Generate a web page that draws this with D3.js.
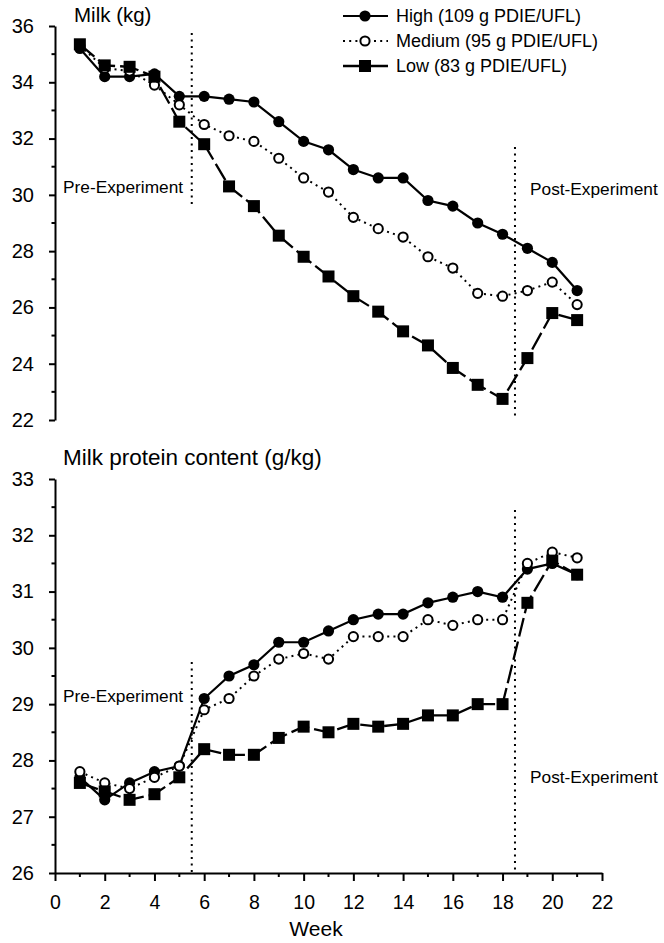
<!DOCTYPE html>
<html>
<head>
<meta charset="utf-8">
<script src="https://cdn.jsdelivr.net/npm/d3@7"></script>
<style>
  body { margin: 0; background: #fff; }
  svg { display: block; font-family: "Liberation Sans", Arial, Helvetica, sans-serif; }
</style>
</head>
<body>
<svg id="chart" width="664" height="943"></svg>
<script>
// Milk yield and protein content per week for three diets (two stacked panels).

const weeks = [1, 2, 3, 4, 5, 6, 7, 8, 9, 10, 11, 12, 13, 14, 15, 16, 17, 18, 19, 20, 21];

const milkHigh   = [35.2, 34.2, 34.2, 34.3, 33.5, 33.5, 33.4, 33.3, 32.6, 31.9, 31.6, 30.9, 30.6, 30.6, 29.8, 29.6, 29.0, 28.6, 28.1, 27.6, 26.6];
const milkMedium = [35.3, 34.5, 34.4, 33.9, 33.2, 32.5, 32.1, 31.9, 31.3, 30.6, 30.1, 29.2, 28.8, 28.5, 27.8, 27.4, 26.5, 26.4, 26.6, 26.9, 26.1];
const milkLow    = [35.35, 34.6, 34.55, 34.2, 32.6, 31.8, 30.3, 29.6, 28.55, 27.8, 27.1, 26.4, 25.85, 25.15, 24.65, 23.85, 23.25, 22.75, 24.2, 25.8, 25.55];

const protHigh   = [27.7, 27.3, 27.6, 27.8, 27.9, 29.1, 29.5, 29.7, 30.1, 30.1, 30.3, 30.5, 30.6, 30.6, 30.8, 30.9, 31.0, 30.9, 31.4, 31.5, 31.3];
const protMedium = [27.8, 27.6, 27.5, 27.7, 27.9, 28.9, 29.1, 29.5, 29.8, 29.9, 29.8, 30.2, 30.2, 30.2, 30.5, 30.4, 30.5, 30.5, 31.5, 31.7, 31.6];
const protLow    = [27.6, 27.45, 27.3, 27.4, 27.7, 28.2, 28.1, 28.1, 28.4, 28.6, 28.5, 28.65, 28.6, 28.65, 28.8, 28.8, 29.0, 29.0, 30.8, 31.55, 31.3];

const seriesNames = ["High (109 g PDIE/UFL)", "Medium (95 g PDIE/UFL)", "Low (83 g PDIE/UFL)"];

const xTicks = [0, 2, 4, 6, 8, 10, 12, 14, 16, 18, 20, 22];
const xMinorTicks = [1, 3, 5, 7, 9, 11, 13, 15, 17, 19, 21];
const milkTicks = [22, 24, 26, 28, 30, 32, 34, 36];
const milkMinorTicks = [23, 25, 27, 29, 31, 33, 35];
const protTicks = [26, 27, 28, 29, 30, 31, 32, 33];
const protMinorTicks = [26.5, 27.5, 28.5, 29.5, 30.5, 31.5, 32.5];

const phaseBreaks = [5.5, 18.5];
const phaseNames = ["Pre-Experiment", "Post-Experiment"];

// ---- layout ----
const svg = d3.select("#chart");
const x = d3.scaleLinear().domain([0, 22]).range([55, 602]);

const styles = [
  { dash: null,     width: 2.2, marker: "dot" },
  { dash: "2,4.2",  width: 2,   marker: "ring" },
  { dash: "19,5",   width: 2.3, marker: "square" }
];

const panels = [
  {
    y: d3.scaleLinear().domain([22, 36]).range([420, 26]),
    ticks: milkTicks, minor: milkMinorTicks,
    series: [milkHigh, milkMedium, milkLow],
    title: "Milk (kg)", titleX: 74, titleY: 22, titleSize: 20.5,
    phaseSpans: [[35.75, 29.65], [31.7, 22]],
    labelY: [193, 195],
    xAxis: false
  },
  {
    y: d3.scaleLinear().domain([26, 33]).range([873, 479]),
    ticks: protTicks, minor: protMinorTicks,
    series: [protHigh, protMedium, protLow],
    title: "Milk protein content (g/kg)", titleX: 63, titleY: 465, titleSize: 22.5,
    phaseSpans: [[29.75, 26], [32.45, 26]],
    labelY: [702, 783],
    xAxis: true
  }
];

function drawMarker(g, type, cx, cy) {
  if (type === "dot") {
    g.append("circle").attr("cx", cx).attr("cy", cy).attr("r", 5.6).attr("fill", "#000");
  } else if (type === "ring") {
    g.append("circle").attr("cx", cx).attr("cy", cy).attr("r", 4.6)
      .attr("fill", "#fff").attr("stroke", "#000").attr("stroke-width", 2);
  } else {
    g.append("rect").attr("x", cx - 6).attr("y", cy - 6).attr("width", 12).attr("height", 12).attr("fill", "#000");
  }
}

panels.forEach((p) => {
  const g = svg.append("g");
  const y = p.y;

  // y axis
  g.append("g")
    .attr("transform", `translate(${x(0)},0)`)
    .call(d3.axisLeft(y).tickValues(p.ticks).tickFormat(d3.format("d"))
      .tickSize(6).tickSizeOuter(0).tickPadding(15))
    .call((a) => a.select(".domain").attr("stroke-width", 2))
    .call((a) => a.selectAll(".tick line").attr("stroke-width", 2))
    .call((a) => a.selectAll(".tick text").attr("font-size", 20).attr("fill", "#000")
      .attr("font-family", "Liberation Sans, Arial, sans-serif"));

  g.append("g").selectAll("line")
    .data(p.minor)
    .join("line")
    .attr("x1", x(0) - 3.5).attr("x2", x(0))
    .attr("y1", (d) => y(d)).attr("y2", (d) => y(d))
    .attr("stroke", "#000").attr("stroke-width", 2);

  // x axis (bottom panel only)
  if (p.xAxis) {
    g.append("g")
      .attr("transform", `translate(0,${y(26)})`)
      .call(d3.axisBottom(x).tickValues(xTicks).tickFormat(d3.format("d"))
        .tickSize(8).tickSizeOuter(0).tickPadding(14))
      .call((a) => a.select(".domain").attr("stroke-width", 2))
      .call((a) => a.selectAll(".tick line").attr("stroke-width", 2))
      .call((a) => a.selectAll(".tick text").attr("font-size", 19.5).attr("fill", "#000")
        .attr("font-family", "Liberation Sans, Arial, sans-serif"));

    g.append("g").selectAll("line")
      .data(xMinorTicks)
      .join("line")
      .attr("x1", (d) => x(d)).attr("x2", (d) => x(d))
      .attr("y1", y(26)).attr("y2", y(26) + 4)
      .attr("stroke", "#000").attr("stroke-width", 2);

    g.append("text")
      .attr("x", 316).attr("y", 936)
      .attr("text-anchor", "middle")
      .attr("font-size", 21)
      .text("Week");
  }

  // panel title
  g.append("text")
    .attr("x", p.titleX).attr("y", p.titleY)
    .attr("font-size", p.titleSize)
    .text(p.title);

  // phase boundaries
  phaseBreaks.forEach((b, i) => {
    g.append("line")
      .attr("x1", x(b)).attr("x2", x(b))
      .attr("y1", y(p.phaseSpans[i][0])).attr("y2", y(p.phaseSpans[i][1]))
      .attr("stroke", "#000").attr("stroke-width", 2)
      .attr("stroke-dasharray", "2,4.5");
  });
  g.append("text")
    .attr("x", 63).attr("y", p.labelY[0])
    .attr("font-size", 17.3)
    .text(phaseNames[0]);
  g.append("text")
    .attr("x", 530).attr("y", p.labelY[1])
    .attr("font-size", 17.3)
    .text(phaseNames[1]);

  // series
  p.series.forEach((vals, si) => {
    const st = styles[si];
    const line = d3.line().x((d, i) => x(weeks[i])).y((d) => y(d));
    g.append("path")
      .datum(vals)
      .attr("d", line)
      .attr("fill", "none")
      .attr("stroke", "#000")
      .attr("stroke-width", st.width)
      .attr("stroke-dasharray", st.dash);
    const mg = g.append("g");
    vals.forEach((v, i) => drawMarker(mg, st.marker, x(weeks[i]), y(v)));
  });
});

// legend
const legend = svg.append("g");
seriesNames.forEach((name, i) => {
  const ly = 16 + i * 25;
  const st = styles[i];
  legend.append("line")
    .attr("x1", 343).attr("x2", 388).attr("y1", ly).attr("y2", ly)
    .attr("stroke", "#000").attr("stroke-width", st.width)
    .attr("stroke-dasharray", i === 1 ? st.dash : null);
  drawMarker(legend, st.marker, 365, ly);
  legend.append("text")
    .attr("x", 396).attr("y", ly + 6)
    .attr("font-size", 18)
    .text(name);
});
</script>
</body>
</html>
